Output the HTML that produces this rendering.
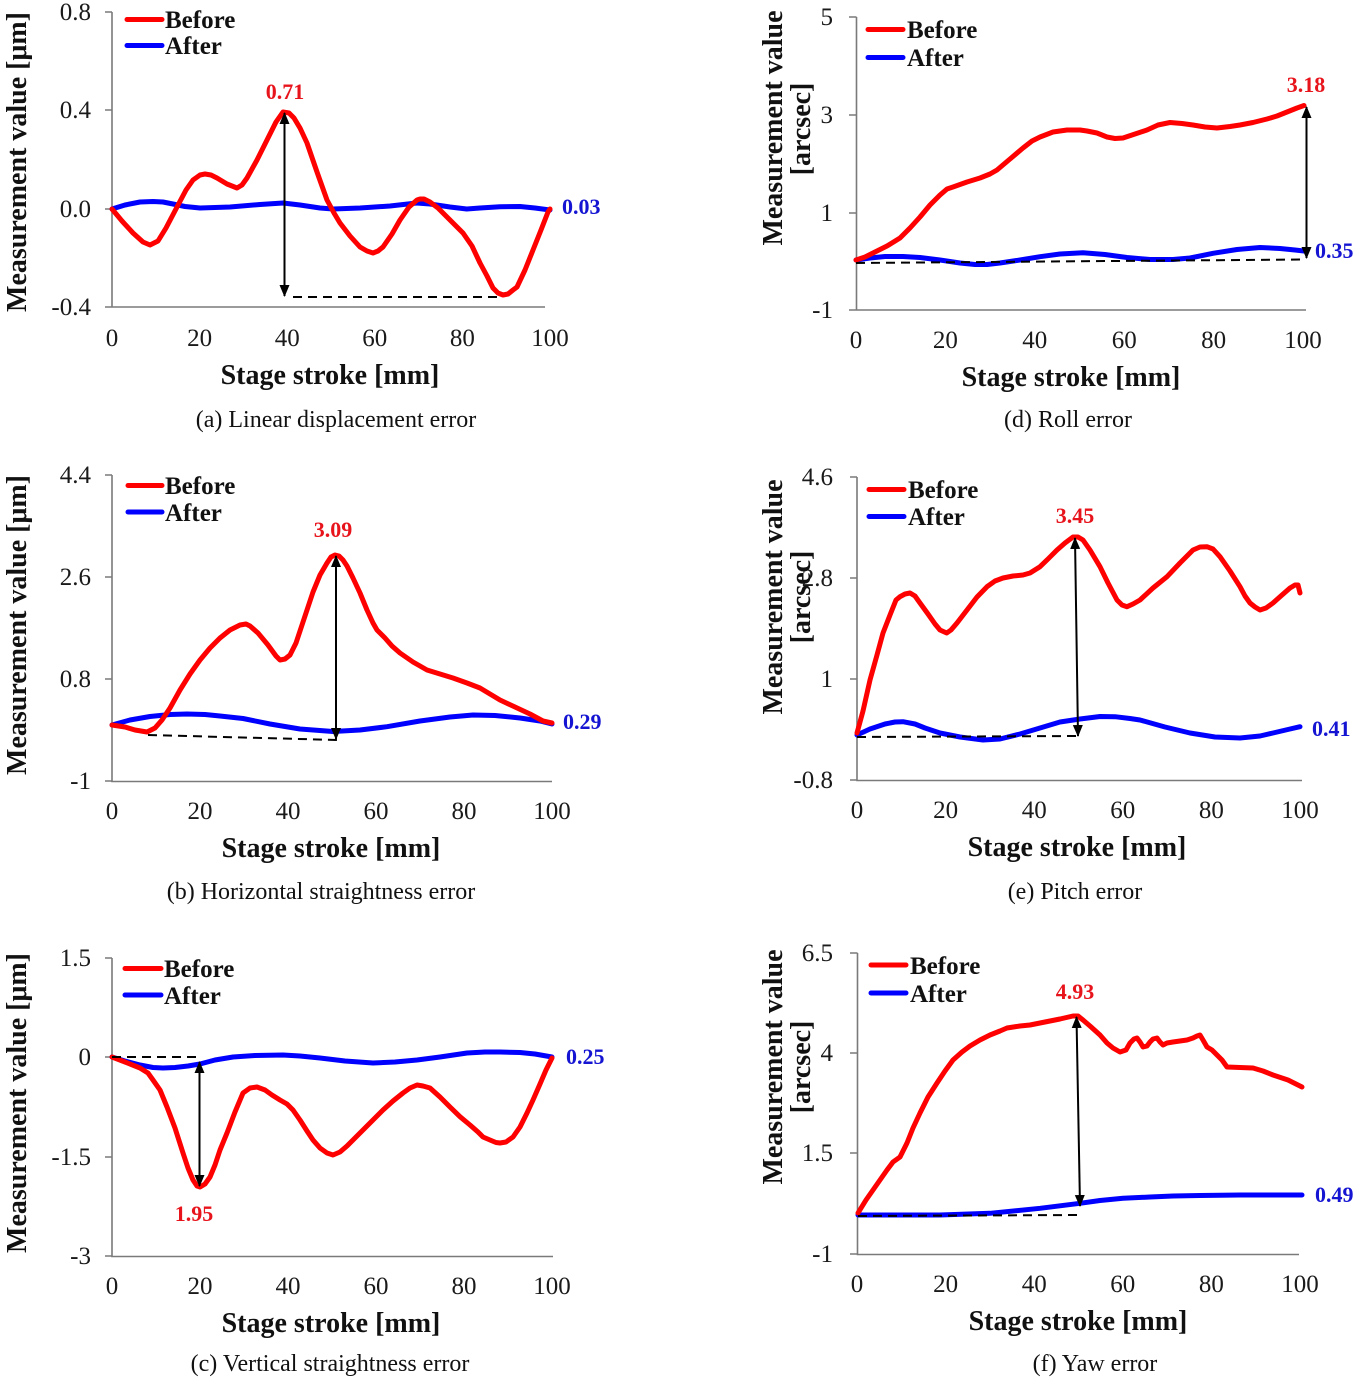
<!DOCTYPE html>
<html>
<head>
<meta charset="utf-8">
<style>
html,body{margin:0;padding:0;background:#fff;}
svg{display:block;}
text{font-family:"Liberation Serif","DejaVu Serif",serif;}
.tk{font-size:25px;fill:#1a1a1a;}
.ttl{font-size:28px;font-weight:bold;fill:#111;}
.cap{font-size:24px;fill:#111;}
.lg{font-size:25px;font-weight:bold;fill:#111;}
.ar{font-size:22px;font-weight:bold;fill:#e8141c;}
.ab{font-size:22px;font-weight:bold;fill:#1414d2;}
.ax{stroke:#7a7a7a;stroke-width:1.6;fill:none;}
.r{stroke:#ff0000;stroke-width:5;fill:none;stroke-linejoin:round;stroke-linecap:round;}
.b{stroke:#0000ff;stroke-width:5;fill:none;stroke-linejoin:round;stroke-linecap:round;}
.lr{stroke:#ff0000;stroke-width:5;stroke-linecap:round;}
.lb{stroke:#0000ff;stroke-width:5;stroke-linecap:round;}
.dash{stroke:#000;stroke-width:2;stroke-dasharray:9,6;fill:none;}
.arw{stroke:#000;stroke-width:2;fill:none;}
</style>
</head>
<body>
<svg width="1357" height="1383" viewBox="0 0 1357 1383" xmlns="http://www.w3.org/2000/svg">
<defs>
<marker id="ah" markerUnits="userSpaceOnUse" markerWidth="12" markerHeight="12" viewBox="0 0 12 12" refX="11" refY="6" orient="auto-start-reverse">
<path d="M0,1 L12,6 L0,11 Z" fill="#000"/>
</marker>
</defs>

<!-- ================= Panel (a) ================= -->
<g>
<path class="ax" d="M112,12 V307 H545 M105,12 H112 M105,110 H112 M105,209 H112 M105,307 H112"/>
<text class="tk" x="91" y="20" text-anchor="end">0.8</text>
<text class="tk" x="91" y="118" text-anchor="end">0.4</text>
<text class="tk" x="91" y="217" text-anchor="end">0.0</text>
<text class="tk" x="91" y="315" text-anchor="end">-0.4</text>
<text class="tk" x="112" y="346" text-anchor="middle">0</text>
<text class="tk" x="199.6" y="346" text-anchor="middle">20</text>
<text class="tk" x="287.2" y="346" text-anchor="middle">40</text>
<text class="tk" x="374.8" y="346" text-anchor="middle">60</text>
<text class="tk" x="462.4" y="346" text-anchor="middle">80</text>
<text class="tk" x="550" y="346" text-anchor="middle">100</text>
<text class="ttl" x="330" y="384" text-anchor="middle">Stage stroke [mm]</text>
<text class="cap" x="336" y="427" text-anchor="middle">(a) Linear displacement error</text>
<text class="ttl" transform="translate(26,162) rotate(-90)" text-anchor="middle">Measurement value [μm]</text>
<polyline class="b" points="112,209 125,205 140,202 153,201.5 163,202 173,204 185,206.5 200,208 230,207 260,204.5 283,203 300,205 320,208 333,209 360,208 390,206 416.7,203 430,204 450,207 466.7,209 480,208 500,206.7 520,206.5 535,208 550,210"/>
<polyline class="r" points="112,209 122,221 133,233 143,242 150,245 158,241 166,228 177,207 186,190 193,180 200,175 205,174 211,175 217,178 227,184 237,188 242,185 247,178 257,160 267,140 276,122 283,112 289,113 294,118 300,128 307,143 317,172 327,200 334,213 340,223 350,236 360,247 367,251 373,253 378,251 383,247 392,234 400,220 409,207 417,200 420,199 424,199 430,202 438,208 447,217 455,225 463,233 472,246 480,263 487,276 493,288 498,293 503,295 508,294 513,290 517,287 525,270 533,250 541,230 548,212 550,209"/>
<line class="dash" x1="293" y1="297" x2="502" y2="297"/>
<line class="arw" x1="284.5" y1="113" x2="284.5" y2="296" marker-start="url(#ah)" marker-end="url(#ah)"/>
<text class="ar" x="285" y="99" text-anchor="middle">0.71</text>
<text class="ab" x="562" y="214">0.03</text>
<line class="lr" x1="127" y1="19.5" x2="162" y2="19.5"/>
<line class="lb" x1="127" y1="45.5" x2="162" y2="45.5"/>
<text class="lg" x="165" y="28">Before</text>
<text class="lg" x="165" y="54">After</text>
</g>

<!-- ================= Panel (d) ================= -->
<g>
<path class="ax" d="M856.5,17 V310 H1306 M849,17 H856.5 M849,115 H856.5 M849,213 H856.5 M849,310 H856.5"/>
<text class="tk" x="833" y="25" text-anchor="end">5</text>
<text class="tk" x="833" y="123" text-anchor="end">3</text>
<text class="tk" x="833" y="221" text-anchor="end">1</text>
<text class="tk" x="833" y="318" text-anchor="end">-1</text>
<text class="tk" x="856" y="348" text-anchor="middle">0</text>
<text class="tk" x="945.4" y="348" text-anchor="middle">20</text>
<text class="tk" x="1034.8" y="348" text-anchor="middle">40</text>
<text class="tk" x="1124.2" y="348" text-anchor="middle">60</text>
<text class="tk" x="1213.6" y="348" text-anchor="middle">80</text>
<text class="tk" x="1303" y="348" text-anchor="middle">100</text>
<text class="ttl" x="1071" y="386" text-anchor="middle">Stage stroke [mm]</text>
<text class="cap" x="1068" y="427" text-anchor="middle">(d) Roll error</text>
<text class="ttl" transform="translate(782,128) rotate(-90)" text-anchor="middle">Measurement value</text>
<text class="ttl" transform="translate(810,129) rotate(-90)" text-anchor="middle">[arcsec]</text>
<polyline class="b" points="856,260 870,258 885,256.5 903,256.5 920,257.5 940,260 960,263 975,264.5 987,264.5 1000,263 1020,260 1040,256.7 1060,254 1083,252.7 1105,254.5 1127,257.5 1150,259.5 1173,259.5 1190,258 1213,253.3 1237,249.5 1260,247.5 1280,248.5 1295,250 1304,251"/>
<polyline class="r" points="856,260 865,257 873,253 887,246 900,238 910,228 920,217 930,205 940,195 947,189 953,187 967,182 980,178 990,174 997,170 1010,159 1023,148 1032,141 1040,137 1053,132 1067,130 1080,130 1087,131 1097,133 1107,137 1115,138.5 1123,138 1135,134 1147,130 1158,125 1170,122.5 1182,123.5 1193,125 1205,127 1217,128 1230,126.5 1240,125 1253,122.5 1267,119 1277,116 1287,112 1297,108 1304,105.5"/>
<line class="dash" x1="856" y1="263" x2="1304" y2="259.5"/>
<line class="arw" x1="1306.5" y1="107" x2="1306.5" y2="258" marker-start="url(#ah)" marker-end="url(#ah)"/>
<text class="ar" x="1306" y="92" text-anchor="middle">3.18</text>
<text class="ab" x="1315" y="258">0.35</text>
<line class="lr" x1="868" y1="29.5" x2="903" y2="29.5"/>
<line class="lb" x1="868" y1="57.5" x2="903" y2="57.5"/>
<text class="lg" x="907" y="38">Before</text>
<text class="lg" x="907" y="66">After</text>
</g>

<!-- ================= Panel (b) ================= -->
<g>
<path class="ax" d="M112,475 V781.5 H552 M105,475 H112 M105,577 H112 M105,679 H112 M105,781 H112"/>
<text class="tk" x="91" y="483" text-anchor="end">4.4</text>
<text class="tk" x="91" y="585" text-anchor="end">2.6</text>
<text class="tk" x="91" y="687" text-anchor="end">0.8</text>
<text class="tk" x="91" y="789" text-anchor="end">-1</text>
<text class="tk" x="112" y="819" text-anchor="middle">0</text>
<text class="tk" x="200" y="819" text-anchor="middle">20</text>
<text class="tk" x="288" y="819" text-anchor="middle">40</text>
<text class="tk" x="376" y="819" text-anchor="middle">60</text>
<text class="tk" x="464" y="819" text-anchor="middle">80</text>
<text class="tk" x="552" y="819" text-anchor="middle">100</text>
<text class="ttl" x="331" y="857" text-anchor="middle">Stage stroke [mm]</text>
<text class="cap" x="321" y="899" text-anchor="middle">(b) Horizontal straightness error</text>
<text class="ttl" transform="translate(26,625) rotate(-90)" text-anchor="middle">Measurement value [μm]</text>
<polyline class="b" points="112,725 130,720 150,716.5 170,714.5 187,714 205,714.5 220,716 243,718.5 270,724 300,729 333,731.5 360,730 387,726.7 420,721 450,717 473,715 495,715.5 520,718 540,721 552,724"/>
<polyline class="r" points="112,725 125,727 135,730 147,732 155,728 162,720 170,708 180,690 190,674 200,660 210,648 220,638 230,630 240,625 246,624 250,626 258,633 268,645 276,656 280,660 285,659 290,655 296,643 302,625 307,610 313,592 320,575 327,563 331,557 335,555 339,556 343,560 347,566 353,578 360,593 367,610 373,623 377,630 385,638 392,646 400,653 413,662 427,670 440,674 453,678 467,683 480,688 490,694 500,700 515,707 530,714 543,721 552,723"/>
<line class="dash" x1="148" y1="735" x2="338" y2="740"/>
<line class="arw" x1="336" y1="556" x2="336" y2="739" marker-start="url(#ah)" marker-end="url(#ah)"/>
<text class="ar" x="333" y="537" text-anchor="middle">3.09</text>
<text class="ab" x="563" y="729">0.29</text>
<line class="lr" x1="128" y1="485.5" x2="162" y2="485.5"/>
<line class="lb" x1="128" y1="512" x2="162" y2="512"/>
<text class="lg" x="165" y="494">Before</text>
<text class="lg" x="165" y="521">After</text>
</g>

<!-- ================= Panel (e) ================= -->
<g>
<path class="ax" d="M857,477 V780.5 H1302 M850,477 H857 M850,578 H857 M850,679 H857 M850,780 H857"/>
<text class="tk" x="833" y="485" text-anchor="end">4.6</text>
<text class="tk" x="833" y="586" text-anchor="end">2.8</text>
<text class="tk" x="833" y="687" text-anchor="end">1</text>
<text class="tk" x="833" y="788" text-anchor="end">-0.8</text>
<text class="tk" x="857" y="818" text-anchor="middle">0</text>
<text class="tk" x="945.6" y="818" text-anchor="middle">20</text>
<text class="tk" x="1034.2" y="818" text-anchor="middle">40</text>
<text class="tk" x="1122.8" y="818" text-anchor="middle">60</text>
<text class="tk" x="1211.4" y="818" text-anchor="middle">80</text>
<text class="tk" x="1300" y="818" text-anchor="middle">100</text>
<text class="ttl" x="1077" y="856" text-anchor="middle">Stage stroke [mm]</text>
<text class="cap" x="1075" y="899" text-anchor="middle">(e)  Pitch error</text>
<text class="ttl" transform="translate(782,597) rotate(-90)" text-anchor="middle">Measurement value</text>
<text class="ttl" transform="translate(810,597) rotate(-90)" text-anchor="middle">[arcsec]</text>
<polyline class="b" points="857,735 870,729 885,724 895,722 903,721.7 915,724 925,728 940,733 960,737 983,740 1000,739 1020,734 1040,728 1060,722 1080,719 1100,716.5 1115,716.7 1130,718.5 1140,720 1165,727 1190,733 1215,737 1240,738 1260,736 1273,733 1290,729 1300,726.7"/>
<polyline class="r" points="857,733 863,711 870,680 877,655 883,633 890,615 896,600 900,596.7 905,594 910,593 915,596 920,603 928,614 935,624 940,630 946.7,633 951,630 957,623 967,610 977,597 987,586.7 995,581 1003,578 1013,576 1023,575 1030,573 1040,566.7 1048,559 1057,550 1065,543 1073,537 1078,537 1083,540 1090,550 1100,566.7 1108,583 1117,600 1122,605 1127,606.7 1133,604 1140,600 1153,588 1167,576.7 1180,563 1193,550 1200,547 1207,546.7 1213,549 1220,556.7 1230,571 1240,586.7 1245,596 1250,603 1255,607 1260,610 1266,608 1273,603 1282,595 1290,588 1295,585 1298,585 1300,593"/>
<line class="dash" x1="857" y1="737" x2="1078" y2="736"/>
<line class="arw" x1="1075" y1="538" x2="1078" y2="736" marker-start="url(#ah)" marker-end="url(#ah)"/>
<text class="ar" x="1075" y="523" text-anchor="middle">3.45</text>
<text class="ab" x="1312" y="736">0.41</text>
<line class="lr" x1="869" y1="489.5" x2="904" y2="489.5"/>
<line class="lb" x1="869" y1="516.5" x2="904" y2="516.5"/>
<text class="lg" x="908" y="498">Before</text>
<text class="lg" x="908" y="525">After</text>
</g>

<!-- ================= Panel (c) ================= -->
<g>
<path class="ax" d="M112,958 V1256.5 H553 M105,958 H112 M105,1057 H112 M105,1157 H112 M105,1256 H112"/>
<text class="tk" x="91" y="966" text-anchor="end">1.5</text>
<text class="tk" x="91" y="1065" text-anchor="end">0</text>
<text class="tk" x="91" y="1165" text-anchor="end">-1.5</text>
<text class="tk" x="91" y="1264" text-anchor="end">-3</text>
<text class="tk" x="112" y="1294" text-anchor="middle">0</text>
<text class="tk" x="200" y="1294" text-anchor="middle">20</text>
<text class="tk" x="288" y="1294" text-anchor="middle">40</text>
<text class="tk" x="376" y="1294" text-anchor="middle">60</text>
<text class="tk" x="464" y="1294" text-anchor="middle">80</text>
<text class="tk" x="552" y="1294" text-anchor="middle">100</text>
<text class="ttl" x="331" y="1332" text-anchor="middle">Stage stroke [mm]</text>
<text class="cap" x="330" y="1371" text-anchor="middle">(c) Vertical straightness error</text>
<text class="ttl" transform="translate(26,1103) rotate(-90)" text-anchor="middle">Measurement value [μm]</text>
<polyline class="b" points="112,1057 125,1061 140,1065 153,1067.5 163,1068 175,1067.5 188,1066 200,1064 215,1060 233,1057 255,1055.5 283,1055 300,1056 320,1058 345,1061 373,1063 395,1062 417,1060 440,1057 467,1053 485,1052 500,1052 520,1052.5 535,1054 552,1057"/>
<polyline class="r" points="112,1057 125,1062 140,1068 148,1073 153,1080 160,1090 167,1107 175,1128 183,1153 188,1168 193,1180 197,1186 200,1187 205,1184 210,1177 215,1165 220,1150 227,1133 235,1112 243,1093 250,1088 257,1087 265,1090 272,1095 280,1100 287,1104 293,1110 300,1120 307,1131 313,1140 320,1148 327,1153 333,1155 340,1152 347,1146 353,1140 363,1130 373,1120 383,1110 393,1101 403,1093 410,1088 417,1085 423,1086 430,1088 440,1097 450,1107 460,1116.7 470,1125 478,1132 483,1137 490,1140 496,1142.5 500,1143 506,1142 513,1137 520,1127 527,1113 533,1100 540,1084 546,1070 552,1058"/>
<line class="dash" x1="112" y1="1057" x2="198" y2="1057"/>
<line class="arw" x1="199.5" y1="1062" x2="199.5" y2="1186" marker-start="url(#ah)" marker-end="url(#ah)"/>
<text class="ar" x="194" y="1221" text-anchor="middle">1.95</text>
<text class="ab" x="566" y="1064">0.25</text>
<line class="lr" x1="125" y1="968.5" x2="161" y2="968.5"/>
<line class="lb" x1="125" y1="995" x2="161" y2="995"/>
<text class="lg" x="164" y="977">Before</text>
<text class="lg" x="164" y="1004">After</text>
</g>

<!-- ================= Panel (f) ================= -->
<g>
<path class="ax" d="M857.5,953 V1254.5 H1299 M850,953 H857.5 M850,1053 H857.5 M850,1153 H857.5 M850,1254 H857.5"/>
<text class="tk" x="833" y="961" text-anchor="end">6.5</text>
<text class="tk" x="833" y="1061" text-anchor="end">4</text>
<text class="tk" x="833" y="1161" text-anchor="end">1.5</text>
<text class="tk" x="833" y="1262" text-anchor="end">-1</text>
<text class="tk" x="857" y="1292" text-anchor="middle">0</text>
<text class="tk" x="945.6" y="1292" text-anchor="middle">20</text>
<text class="tk" x="1034.2" y="1292" text-anchor="middle">40</text>
<text class="tk" x="1122.8" y="1292" text-anchor="middle">60</text>
<text class="tk" x="1211.4" y="1292" text-anchor="middle">80</text>
<text class="tk" x="1300" y="1292" text-anchor="middle">100</text>
<text class="ttl" x="1078" y="1330" text-anchor="middle">Stage stroke [mm]</text>
<text class="cap" x="1095" y="1371" text-anchor="middle">(f) Yaw error</text>
<text class="ttl" transform="translate(782,1067) rotate(-90)" text-anchor="middle">Measurement value</text>
<text class="ttl" transform="translate(810,1067) rotate(-90)" text-anchor="middle">[arcsec]</text>
<polyline class="b" points="858,1215 900,1215 940,1215 990,1213.3 1040,1208.3 1080,1203.3 1100,1200.5 1123,1198.3 1150,1197 1173,1196 1200,1195.5 1240,1195 1270,1195 1302,1195"/>
<polyline class="r" points="858,1213 866,1200 873,1190 880,1180 887,1170 893,1162 900,1157 907,1143 913,1128 920,1113 928,1097 937,1083 945,1071 953,1060 962,1052 970,1046 980,1040 990,1035 1000,1031 1007,1028 1020,1026 1030,1025 1040,1023 1050,1021 1060,1019 1073,1016 1078,1016 1083,1020 1090,1026 1100,1035 1107,1043 1113,1048 1120,1052 1126,1050 1130,1043 1134,1039 1137,1038 1140,1042 1143,1047 1147,1046 1150,1042 1153,1039 1157,1038 1160,1042 1163,1045 1167,1043 1173,1042 1180,1041 1187,1040 1193,1038 1197,1036 1200,1035 1203,1040 1207,1047 1212,1050 1217,1055 1222,1060 1227,1067 1240,1067.5 1253,1068 1263,1071 1273,1075 1288,1080 1302,1087"/>
<line class="dash" x1="858" y1="1216" x2="1078" y2="1215"/>
<line class="arw" x1="1076.5" y1="1017" x2="1080" y2="1206" marker-start="url(#ah)" marker-end="url(#ah)"/>
<text class="ar" x="1075" y="999" text-anchor="middle">4.93</text>
<text class="ab" x="1315" y="1202">0.49</text>
<line class="lr" x1="871" y1="965" x2="906" y2="965"/>
<line class="lb" x1="871" y1="993" x2="906" y2="993"/>
<text class="lg" x="910" y="974">Before</text>
<text class="lg" x="910" y="1002">After</text>
</g>
</svg>
</body>
</html>
